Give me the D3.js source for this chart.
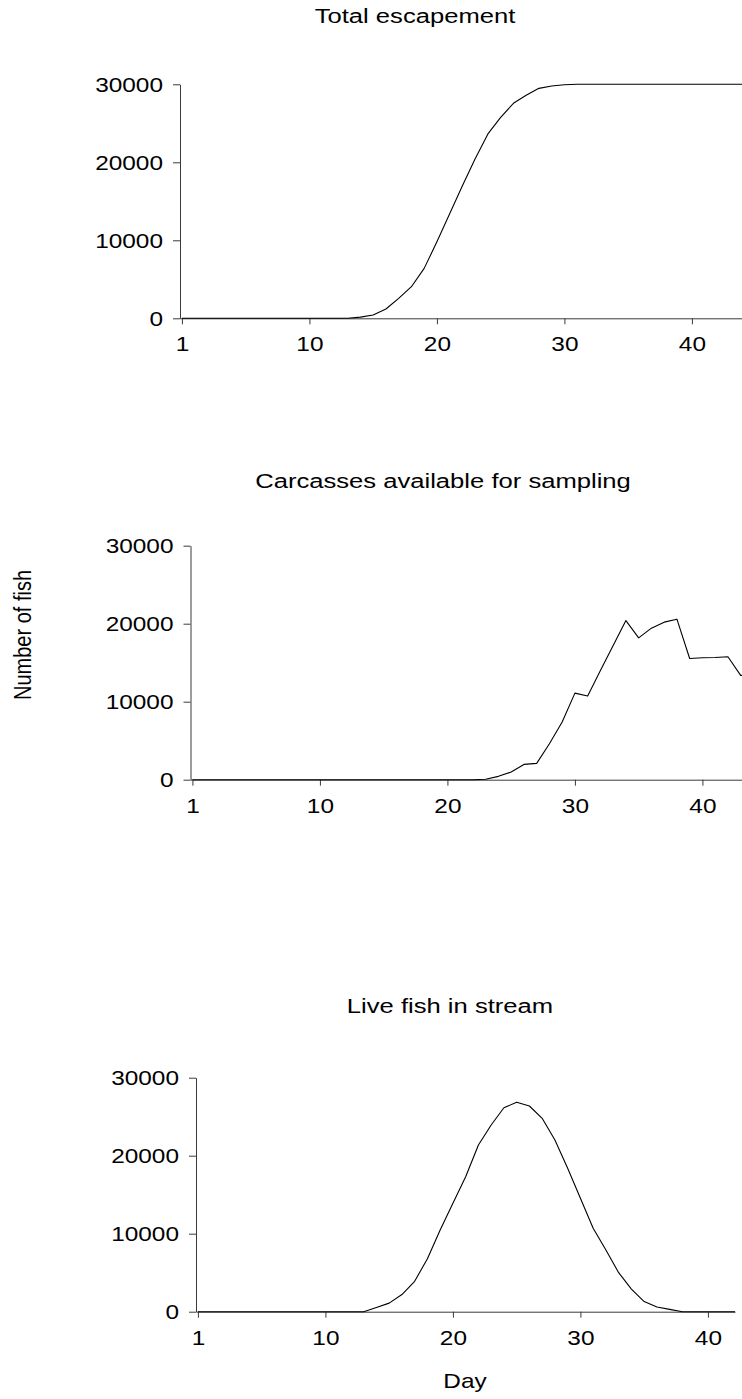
<!DOCTYPE html>
<html>
<head>
<meta charset="utf-8">
<script src="https://cdn.jsdelivr.net/npm/d3@7"></script>
<style>
  html, body { margin: 0; padding: 0; background: #fff; }
  svg { display: block; }
  text { font-family: "Liberation Sans", Arial, Helvetica, sans-serif; fill: #000; }
</style>
</head>
<body>
<svg id="chart" width="742" height="1399"></svg>
<script>
// Day index along the season (first tick is labelled "1")
const days = [0,1,2,3,4,5,6,7,8,9,10,11,12,13,14,15,16,17,18,19,20,21,22,
              23,24,25,26,27,28,29,30,31,32,33,34,35,36,37,38,39,40,41,42,43,44];

const xTickValues = [0, 10, 20, 30, 40];
const xTickLabels = ["1", "10", "20", "30", "40"];
const yTickValues = [0, 10000, 20000, 30000];

// Cumulative number of fish that have entered the stream
const totalEscapement = [0,0,0,0,0,0,0,0,0,0,0,0,0,0,150,430,1190,2560,4050,6400,9800,
                         13400,17000,20450,23640,25770,27560,28600,29480,29780,29950,
                         30000,30000,30000,30000,30000,30000,30000,30000,30000,30000,
                         30000,30000,30000,30000];

// Carcasses on the banks that can be sampled each day
const carcassesAvailable = [0,0,0,0,0,0,0,0,0,0,0,0,0,0,0,0,0,0,0,0,0,0,0,50,430,980,
                            1960,2090,4610,7390,11100,10720,14000,17200,20400,18190,
                            19430,20200,20580,15540,15630,15670,15760,13370,13370];

// Live fish present in the stream each day
const liveFishInStream = [0,0,0,0,0,0,0,0,0,0,0,0,0,0,550,1100,2200,3900,6800,10470,
                          13890,17300,21370,23930,26150,26850,26370,24790,22010,18380,
                          14540,10690,7910,5000,2900,1300,600,300,0,0,0,0,0,0,0];

const panelTitles = ["Total escapement", "Carcasses available for sampling", "Live fish in stream"];
const yAxisTitle = "Number of fish";
const xAxisTitle = "Day";

// Layout of the three stacked panels
const panels = [
  { title: panelTitles[0], values: totalEscapement,   axisX: 180,   right: 745, y0: 318.3,  yTop: 84.3,   titleX: 415, titleY: 23 },
  { title: panelTitles[1], values: carcassesAvailable, axisX: 190.5, right: 745, y0: 779.7,  yTop: 545.7,  titleX: 443, titleY: 488 },
  { title: panelTitles[2], values: liveFishInStream,   axisX: 196,   right: 735, y0: 1311.7, yTop: 1077.7, titleX: 450, titleY: 1013 }
];

const unitPx = 12.75;       // horizontal pixels per day
const xStart = -0.15;       // day value sitting on the vertical axis
const stretch = 1.22;       // horizontal stretch of all lettering
const tickFont = 20;
const titleFont = 21;
const axisColor = "#3a3a3a";

const svg = d3.select("#chart");

function stretchedText(g, x, y, str, size, anchor) {
  return g.append("text")
    .attr("transform", `translate(${x},${y}) scale(${stretch},1)`)
    .attr("text-anchor", anchor)
    .attr("font-size", size)
    .text(str);
}

panels.forEach((p, idx) => {
  const g = svg.append("g");

  const x = d3.scaleLinear()
    .domain([xStart, xStart + (p.right - p.axisX) / unitPx])
    .range([p.axisX, p.right]);
  const y = d3.scaleLinear()
    .domain([0, 30000])
    .range([p.y0, p.yTop]);

  // panel title
  stretchedText(g, p.titleX, p.titleY, p.title, titleFont, "middle");

  // y axis
  const yAxis = g.append("g")
    .attr("transform", `translate(${p.axisX},0)`)
    .call(d3.axisLeft(y).tickValues(yTickValues).tickSize(7).tickSizeOuter(0)
      .tickFormat(d3.format("d")));
  yAxis.select(".domain").attr("stroke", axisColor);
  yAxis.selectAll(".tick line").attr("stroke", axisColor);
  yAxis.selectAll(".tick text")
    .attr("x", null).attr("dy", null)
    .attr("transform", `translate(-17,0) scale(${stretch},1)`)
    .attr("dominant-baseline", "central")
    .attr("text-anchor", "end")
    .attr("font-size", tickFont)
    .attr("font-family", "Liberation Sans, Arial, sans-serif")
    .attr("fill", "#000");

  // x axis
  const xAxis = g.append("g")
    .attr("transform", `translate(0,${p.y0})`)
    .call(d3.axisBottom(x).tickValues(xTickValues).tickSize(6).tickSizeOuter(0)
      .tickFormat((d, i) => xTickLabels[i]));
  xAxis.select(".domain").attr("stroke", axisColor);
  xAxis.selectAll(".tick line").attr("stroke", axisColor);
  xAxis.selectAll(".tick text")
    .attr("y", null).attr("dy", null)
    .attr("transform", `translate(0,33) scale(${stretch},1)`)
    .attr("text-anchor", "middle")
    .attr("font-size", tickFont)
    .attr("font-family", "Liberation Sans, Arial, sans-serif")
    .attr("fill", "#000");

  // clip the series to the plotting area
  const clipId = "clip" + idx;
  svg.append("clipPath").attr("id", clipId)
    .append("rect")
    .attr("x", p.axisX).attr("y", p.yTop - 10)
    .attr("width", p.right - p.axisX).attr("height", p.y0 - p.yTop + 12);

  const series = days.map((d, i) => ({ day: d, value: p.values[i] }));
  const line = d3.line().x(d => x(d.day)).y(d => y(d.value));

  g.append("path")
    .datum(series)
    .attr("clip-path", `url(#${clipId})`)
    .attr("fill", "none")
    .attr("stroke", "#000")
    .attr("stroke-width", 1.1)
    .attr("stroke-linejoin", "round")
    .attr("d", line);
});

// shared axis titles
svg.append("text")
  .attr("transform", `translate(31,635) rotate(-90) scale(1,${stretch})`)
  .attr("text-anchor", "middle")
  .attr("font-size", 20)
  .text(yAxisTitle);

stretchedText(svg, 465, 1388, xAxisTitle, 20, "middle");
</script>
</body>
</html>
